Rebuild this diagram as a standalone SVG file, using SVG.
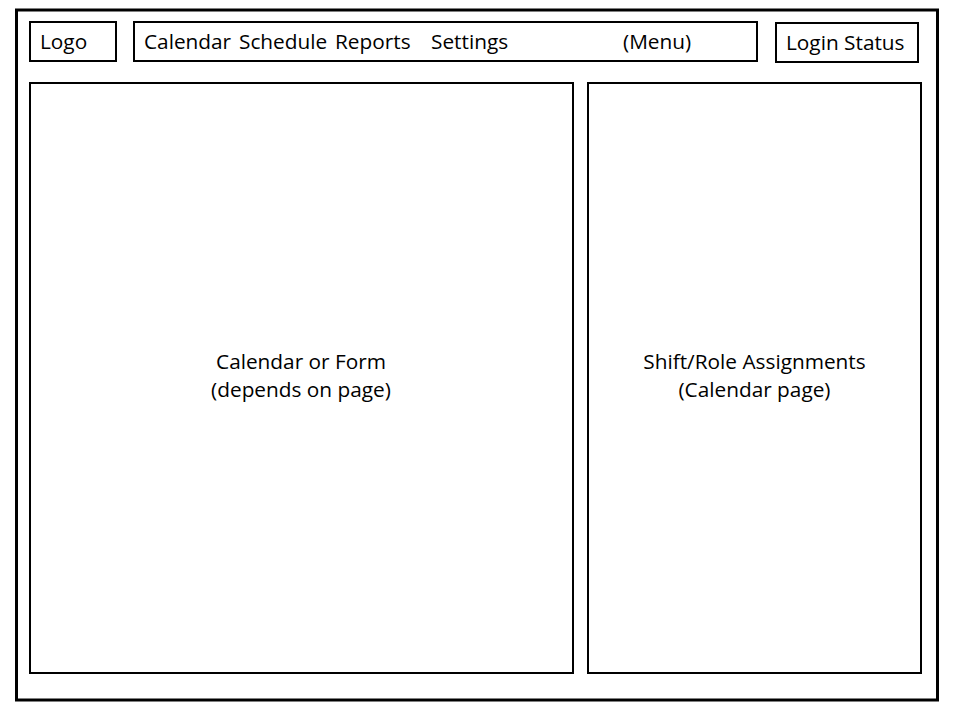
<svg xmlns="http://www.w3.org/2000/svg" width="955" height="713" viewBox="0 0 955 713">
<style>
.b{fill:#fff;stroke:#000;stroke-width:2}
.t{font-family:"Open Sans","Liberation Sans",sans-serif;font-size:20.8px;fill:#000}
.c{text-anchor:middle}
</style>
<rect width="955" height="713" fill="#fff"/>
<g id="frame"><rect x="16.5" y="10" width="921" height="690" fill="#fff" stroke="#000" stroke-width="3"/></g>
<g id="logo"><rect class="b" x="30" y="22" width="86" height="39"/><text class="t" x="40" y="49">Logo</text></g>
<g id="menu"><rect class="b" x="134" y="22" width="623" height="39"/>
<text class="t" x="144" y="49">Calendar</text>
<text class="t" x="239" y="49">Schedule</text>
<text class="t" x="335" y="49">Reports</text>
<text class="t" x="431" y="49">Settings</text>
<text class="t" x="623" y="49">(Menu)</text></g>
<g id="login"><rect class="b" x="776" y="23" width="142" height="39"/><text class="t" x="786" y="50">Login Status</text></g>
<g id="main"><rect class="b" x="30" y="83" width="543" height="590"/>
<text class="t c" x="301" y="369">Calendar or Form</text>
<text class="t c" x="301" y="397">(depends on page)</text></g>
<g id="side"><rect class="b" x="588" y="83" width="333" height="590"/>
<text class="t c" x="754.5" y="369">Shift/Role Assignments</text>
<text class="t c" x="754.5" y="397">(Calendar page)</text></g>
<g id="connectors"/>
</svg>
